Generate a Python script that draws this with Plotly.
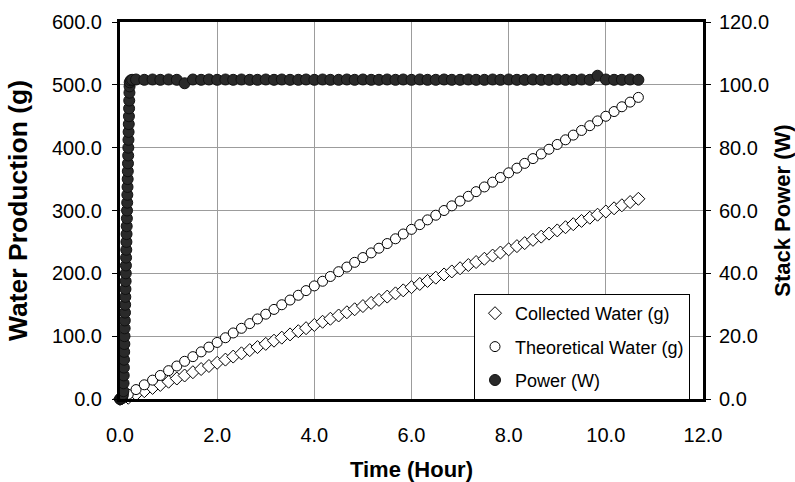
import plotly.graph_objects as go

# ---------------- data ----------------
time_h = [0.00, 0.17, 0.33, 0.50, 0.67, 0.83,
          1.00, 1.17, 1.33, 1.50, 1.67, 1.83,
          2.00, 2.17, 2.33, 2.50, 2.67, 2.83,
          3.00, 3.17, 3.33, 3.50, 3.67, 3.83,
          4.00, 4.17, 4.33, 4.50, 4.67, 4.83,
          5.00, 5.17, 5.33, 5.50, 5.67, 5.83,
          6.00, 6.17, 6.33, 6.50, 6.67, 6.83,
          7.00, 7.17, 7.33, 7.50, 7.67, 7.83,
          8.00, 8.17, 8.33, 8.50, 8.67, 8.83,
          9.00, 9.17, 9.33, 9.50, 9.67, 9.83,
          10.00, 10.17, 10.33, 10.50, 10.67]

collected_g = [0.0, 2.0, 7.3, 12.4, 17.6, 22.4,
               27.5, 32.6, 37.4, 42.6, 47.7, 52.5,
               57.6, 62.7, 67.5, 72.7, 77.8, 82.6,
               87.7, 92.8, 97.6, 102.8, 107.9, 112.7,
               117.8, 122.9, 127.7, 132.9, 138.0, 142.8,
               147.9, 153.0, 157.8, 163.0, 168.1, 172.9,
               178.0, 183.1, 187.9, 193.1, 198.2, 203.0,
               208.1, 213.2, 218.0, 223.2, 228.3, 233.1,
               238.2, 243.3, 248.1, 253.3, 258.4, 263.2,
               268.3, 273.4, 278.2, 283.4, 288.5, 293.3,
               298.4, 303.5, 308.3, 313.5, 318.6]

theoretical_g = [0.0, 7.4, 15.0, 22.6, 30.0, 37.5,
                 45.1, 52.5, 60.0, 67.4, 75.0, 82.6,
                 90.0, 97.5, 105.1, 112.5, 120.0, 127.4,
                 135.0, 142.6, 150.0, 157.5, 165.1, 172.5,
                 180.0, 187.4, 195.0, 202.6, 210.0, 217.5,
                 225.1, 232.5, 240.0, 247.4, 255.0, 262.6,
                 270.0, 277.5, 285.1, 292.5, 300.0, 307.4,
                 315.0, 322.6, 330.0, 337.5, 345.1, 352.5,
                 360.0, 367.4, 375.0, 382.6, 390.0, 397.5,
                 405.1, 412.5, 420.0, 427.4, 435.0, 442.6,
                 450.0, 457.5, 465.1, 472.5, 480.0]

power_time_h = [0.000, 0.010, 0.020, 0.030, 0.040, 0.050, 0.060,
                0.070, 0.073, 0.077, 0.080, 0.083, 0.086, 0.090, 0.093,
                0.096, 0.099, 0.103, 0.106, 0.109, 0.112, 0.116, 0.119,
                0.122, 0.125, 0.129, 0.132, 0.135, 0.138, 0.142, 0.145,
                0.148, 0.151, 0.155, 0.158, 0.161, 0.164, 0.168, 0.171,
                0.174, 0.177, 0.181, 0.184, 0.187, 0.190, 0.194, 0.197,
                0.200, 0.22, 0.25,
                0.33, 0.50, 0.67, 0.83,
                1.00, 1.17, 1.33, 1.50, 1.67, 1.83,
                2.00, 2.17, 2.33, 2.50, 2.67, 2.83,
                3.00, 3.17, 3.33, 3.50, 3.67, 3.83,
                4.00, 4.17, 4.33, 4.50, 4.67, 4.83,
                5.00, 5.17, 5.33, 5.50, 5.67, 5.83,
                6.00, 6.17, 6.33, 6.50, 6.67, 6.83,
                7.00, 7.17, 7.33, 7.50, 7.67, 7.83,
                8.00, 8.17, 8.33, 8.50, 8.67, 8.83,
                9.00, 9.17, 9.33, 9.50, 9.67, 9.83,
                10.00, 10.17, 10.33, 10.50, 10.67]

power_w = [0.0, 0.0, 0.1, 0.2, 0.4, 0.8, 1.5,
           2.5, 5.0, 7.5, 10.0, 12.5, 15.0, 17.5, 20.0,
           22.5, 25.0, 27.5, 30.0, 32.5, 35.0, 37.5, 40.0,
           42.5, 45.0, 47.5, 50.0, 52.5, 55.0, 57.5, 60.0,
           62.5, 65.0, 67.5, 70.0, 72.5, 75.0, 77.5, 80.0,
           82.5, 85.0, 87.5, 90.0, 92.5, 95.0, 97.5, 99.5,
           100.8, 101.4, 101.6,
           101.7, 101.6, 101.7, 101.6,
           101.7, 101.6, 100.5, 101.7, 101.6, 101.7,
           101.6, 101.7, 101.6, 101.7, 101.6, 101.6,
           101.7, 101.6, 101.7, 101.6, 101.6, 101.7,
           101.6, 101.7, 101.6, 101.6, 101.7, 101.6,
           101.7, 101.6, 101.6, 101.7, 101.6, 101.7,
           101.6, 101.7, 101.6, 101.6, 101.7, 101.6,
           101.6, 101.7, 101.6, 101.6, 101.7, 101.6,
           101.7, 101.6, 101.6, 101.7, 101.6, 101.6,
           101.7, 101.6, 101.6, 101.7, 101.6, 102.9,
           101.7, 101.6, 101.6, 101.7, 101.6]

x_ticks = [0, 2, 4, 6, 8, 10, 12]
left_ticks = [0, 100, 200, 300, 400, 500, 600]
right_ticks = [0, 20, 40, 60, 80, 100, 120]

# ---------------- figure ----------------
FONT = "Liberation Sans, Arial, sans-serif"
GRID = "#9c9c9c"

fig = go.Figure()

fig.add_trace(go.Scatter(
    x=time_h, y=collected_g, name="Collected Water (g)", mode="markers",
    legendgroup="a", cliponaxis=False,
    marker=dict(symbol="diamond", size=10, color="white",
                line=dict(color="black", width=1)),
))
fig.add_trace(go.Scatter(
    x=time_h, y=theoretical_g, name="Theoretical Water (g)", mode="markers",
    legendgroup="b", cliponaxis=False,
    marker=dict(symbol="circle", size=10, color="white",
                line=dict(color="black", width=1)),
))
fig.add_trace(go.Scatter(
    x=power_time_h, y=power_w, name="Power (W)", mode="markers",
    legendgroup="c", cliponaxis=False, yaxis="y2",
    marker=dict(symbol="circle", size=11, color="#2a2a2a",
                line=dict(color="#111111", width=1)),
))

fig.update_layout(
    width=795, height=482,
    margin=dict(l=120, r=92, t=22, b=83),
    paper_bgcolor="white", plot_bgcolor="white",
    font=dict(family=FONT, size=20, color="black"),
    showlegend=True,
    legend=dict(
        x=(474 - 120) / 583, y=(399 - 294) / 377,
        xanchor="left", yanchor="top",
        bgcolor="white", bordercolor="black", borderwidth=1,
        font=dict(family=FONT, size=18, color="black"),
        tracegroupgap=7,
    ),
    xaxis=dict(
        range=[0, 12], tickvals=x_ticks, tickformat=".1f",
        showgrid=True, gridcolor=GRID, gridwidth=1,
        showline=True, linecolor="black", linewidth=3, mirror=True,
        ticks="", zeroline=False, ticklabelstandoff=16, automargin=False,
        title=dict(text="<b>Time (Hour)</b>", font=dict(size=22), standoff=36),
    ),
    yaxis=dict(
        range=[0, 600], tickvals=left_ticks, tickformat=".1f",
        showgrid=True, gridcolor=GRID, gridwidth=1,
        showline=True, linecolor="black", linewidth=3,
        ticks="outside", ticklen=5, tickcolor="black", zeroline=False,
        ticklabelstandoff=6, automargin=False,
        title=dict(text="<b>Water Production (g)</b>", font=dict(size=26.5), standoff=17),
    ),
    yaxis2=dict(
        range=[0, 120], tickvals=right_ticks, tickformat=".1f",
        overlaying="y", side="right", showgrid=False,
        showline=True, linecolor="black", linewidth=3,
        ticks="outside", ticklen=5, tickcolor="black", zeroline=False,
        ticklabelstandoff=4, automargin=False,
        title=dict(text="<b>Stack Power (W)</b>", font=dict(size=22), standoff=8),
    ),
)

fig.write_html("out.html")
